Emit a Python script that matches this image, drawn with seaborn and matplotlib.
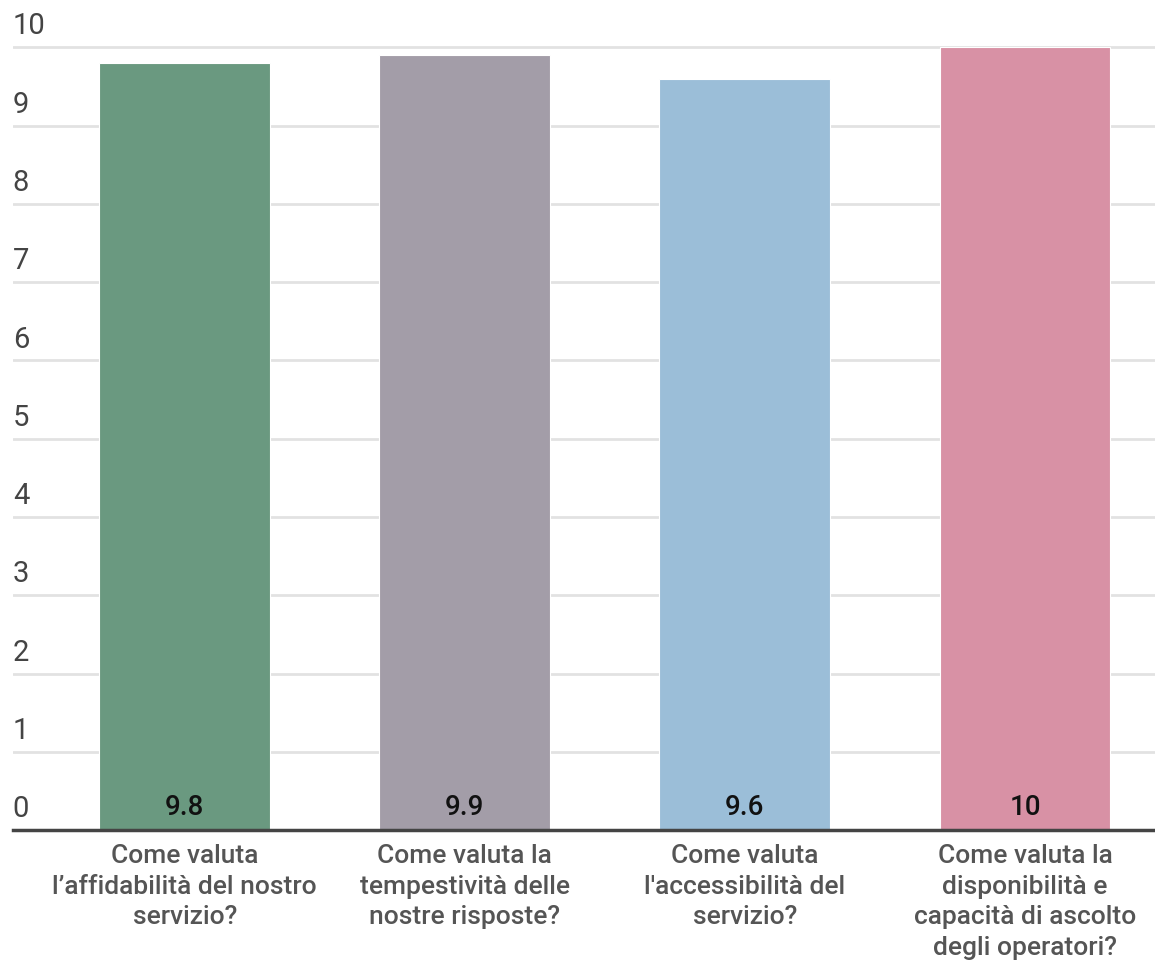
import matplotlib
matplotlib.use("Agg")
import matplotlib.pyplot as plt
import seaborn as sns
import pandas as pd

categories = [
    "Come valuta\nl\u2019affidabilit\u00e0 del nostro\nservizio?",
    "Come valuta la\ntempestivit\u00e0 delle\nnostre risposte?",
    "Come valuta\nl'accessibilit\u00e0 del\nservizio?",
    "Come valuta la\ndisponibilit\u00e0 e\ncapacit\u00e0 di ascolto\ndegli operatori?",
]
values = [9.8, 9.9, 9.6, 10]
value_labels = ["9.8", "9.9", "9.6", "10"]
colors = ["#6a9980", "#a39da8", "#9bbed8", "#d891a5"]
y_ticks = [0, 1, 2, 3, 4, 5, 6, 7, 8, 9, 10]

sns.set_style("white")
plt.rcParams["font.family"] = ["Roboto", "DejaVu Sans"]

df = pd.DataFrame({"domanda": categories, "voto": values})

fig = plt.figure(figsize=(11.55, 9.63), dpi=100)
ax = fig.add_axes([0.011, 0.138, 0.989, 0.816])

sns.barplot(data=df, x="domanda", y="voto", hue="domanda", palette=colors,
            width=0.61, legend=False, ax=ax, saturation=1,
            edgecolor="white", linewidth=0.8, zorder=3)

ax.set_xlim(-0.614, 3.464)
ax.set_ylim(0, 10.04)
ax.set_yticks(y_ticks)
ax.set_yticklabels([])
ax.tick_params(axis="y", length=0)
ax.yaxis.grid(True, color="#e2e2e2", linewidth=2)
ax.set_axisbelow(True)

for t in y_ticks:
    ax.annotate(str(t), xy=(0, t), xycoords=ax.get_yaxis_transform(),
                xytext=(0, 5), textcoords="offset points",
                ha="left", va="bottom", fontsize=21, color="#444444")

for i, lab in enumerate(value_labels):
    ax.text(i, 0.11, lab, ha="center", va="bottom", fontsize=20,
            color="#111111", fontweight="medium", zorder=4)

ax.set_xlabel("")
ax.set_ylabel("")
ax.tick_params(axis="x", length=0, pad=10, labelsize=19, labelcolor="#555555")
for lbl in ax.get_xticklabels():
    lbl.set_fontweight("medium")
    lbl.set_linespacing(1.35)

for side in ["top", "right", "left"]:
    ax.spines[side].set_visible(False)
ax.spines["bottom"].set_color("#444444")
ax.spines["bottom"].set_linewidth(2.5)
ax.spines["bottom"].set_zorder(5)

fig.savefig("out.png", dpi=100)
